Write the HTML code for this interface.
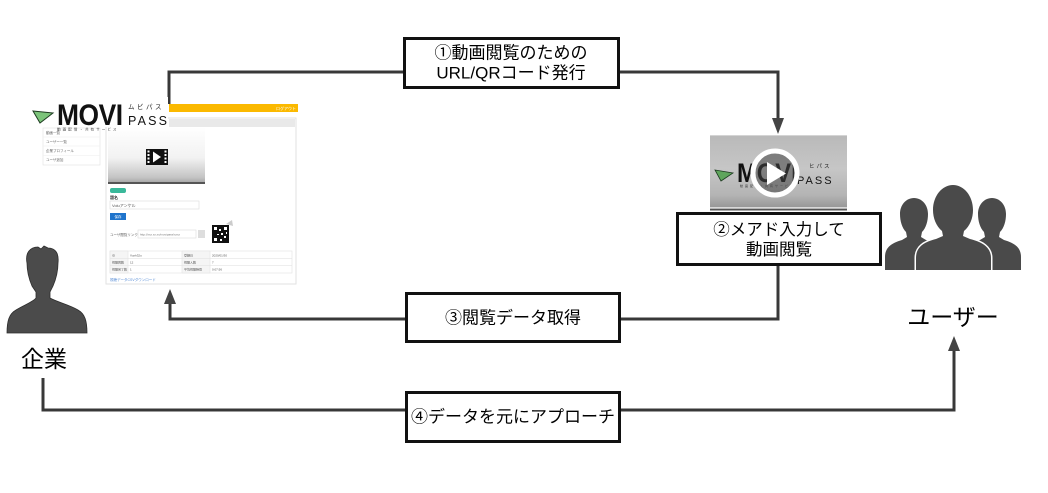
<!DOCTYPE html>
<html><head><meta charset="utf-8">
<style>
html,body{margin:0;padding:0;background:#fff;}
svg{display:block;}
text{font-family:"Liberation Sans","Noto Sans CJK JP",sans-serif;}
</style></head>
<body>
<svg width="1048" height="493" viewBox="0 0 1048 493" xmlns="http://www.w3.org/2000/svg">
<defs>
  <linearGradient id="vid" x1="0" y1="0" x2="0" y2="1">
    <stop offset="0" stop-color="#ffffff"/>
    <stop offset="0.55" stop-color="#f2f2f2"/>
    <stop offset="0.9" stop-color="#c4c4c4"/>
    <stop offset="1" stop-color="#a5a5a5"/>
  </linearGradient>
  <linearGradient id="thumb" x1="0" y1="0" x2="0" y2="1">
    <stop offset="0" stop-color="#b9b9b9"/>
    <stop offset="0.45" stop-color="#c6c6c6"/>
    <stop offset="0.8" stop-color="#b4b4b4"/>
    <stop offset="1" stop-color="#929292"/>
  </linearGradient>
</defs>

<!-- ===== connectors ===== -->
<g fill="none" stroke="#383838" stroke-width="3">
  <polyline points="169,104 169,72 405,72"/>
  <polyline points="619,72 778,72 778,119"/>
  <polyline points="778,265 778,319 620,319"/>
  <polyline points="405,319 170,319 170,303"/>
  <polyline points="43,378 43,410 405,410"/>
  <polyline points="620,410 954,410 954,350"/>
</g>
<g fill="#444">
  <polygon points="772,118 784,118 778,134"/>
  <polygon points="164,304 176,304 170,289"/>
  <polygon points="948,351 960,351 954,336"/>
</g>

<!-- ===== left screenshot ===== -->
<rect x="106" y="118" width="190" height="166" fill="#fff" stroke="#e2e2e2" stroke-width="1"/>
<rect x="169" y="119" width="126" height="8" fill="#e9e9e9"/>
<rect x="169" y="104" width="129" height="8" fill="#fbb900"/>
<text x="286" y="110" font-size="4" fill="#fff" text-anchor="middle">ログアウト</text>
<rect x="108" y="127" width="97" height="56" fill="url(#vid)"/>
<rect x="108" y="182" width="97" height="2" fill="#555"/>
<rect x="146" y="149" width="22" height="16" fill="#111"/>
<g fill="#fff">
  <rect x="147.5" y="150.5" width="2" height="2"/><rect x="147.5" y="154" width="2" height="2"/><rect x="147.5" y="157.5" width="2" height="2"/><rect x="147.5" y="161" width="2" height="2"/>
  <rect x="164.5" y="150.5" width="2" height="2"/><rect x="164.5" y="154" width="2" height="2"/><rect x="164.5" y="157.5" width="2" height="2"/><rect x="164.5" y="161" width="2" height="2"/>
  <polygon points="153,151.5 153,162.5 161,157"/>
</g>
<rect x="110" y="188" width="16" height="5" rx="2" fill="#3ab89a"/>
<text x="110" y="199" font-size="4" fill="#333" font-weight="bold">題名</text>
<rect x="110" y="201" width="89" height="8" fill="#fff" stroke="#ddd" stroke-width="0.6"/>
<text x="112" y="207" font-size="4" fill="#555">Voluアンケル</text>
<rect x="110" y="213" width="16" height="7" fill="#1f74cc"/>
<text x="118" y="218" font-size="3.5" fill="#fff" text-anchor="middle">保存</text>
<text x="110" y="236" font-size="3.5" fill="#666">ユーザ閲覧リンク</text>
<rect x="138" y="230" width="58" height="8" fill="#fff" stroke="#ddd" stroke-width="0.6"/>
<text x="140" y="235.5" font-size="3" fill="#777">http://xxx.xx.xx/movipass/xxxx</text>
<rect x="198" y="230" width="7" height="8" fill="#ddd"/>
<rect x="212" y="225" width="17" height="18" fill="#111"/>
<g fill="#fff">
  <rect x="214" y="227" width="3" height="3"/><rect x="224" y="227" width="3" height="3"/><rect x="214" y="238" width="3" height="3"/>
  <rect x="219" y="229" width="2" height="2"/><rect x="221" y="233" width="2" height="2"/><rect x="217" y="234" width="2" height="1"/>
  <rect x="224" y="236" width="2" height="2"/><rect x="220" y="239" width="2" height="2"/><rect x="226" y="232" width="1" height="2"/>
</g>
<polygon points="226,224 232,220 233,226" fill="#ccc"/>
<g stroke="#e3e3e3" stroke-width="0.6">
  <rect x="110" y="251" width="182" height="22" fill="#fff"/>
  <rect x="110" y="251" width="18" height="22" fill="#f5f5f5"/>
  <rect x="182" y="251" width="28" height="22" fill="#f5f5f5"/>
  <line x1="110" y1="258.3" x2="292" y2="258.3"/>
  <line x1="110" y1="265.6" x2="292" y2="265.6"/>
</g>
<g font-size="3" fill="#555">
  <text x="112" y="256.5">ID</text><text x="130" y="256.5">Vuxh32u</text><text x="184" y="256.5">登録日</text><text x="212" y="256.5">2020/01/30</text>
  <text x="112" y="263.5">視聴回数</text><text x="130" y="263.5">12</text><text x="184" y="263.5">視聴人数</text><text x="212" y="263.5">7</text>
  <text x="112" y="270.5">視聴完了数</text><text x="130" y="270.5">1</text><text x="184" y="270.5">平均視聴時間</text><text x="212" y="270.5">0:07:56</text>
</g>
<text x="110" y="281" font-size="3.5" fill="#5b8fd6">視聴データCSVダウンロード</text>

<rect x="43" y="128" width="57" height="37" fill="#fff" stroke="#e4e4e4" stroke-width="0.7"/>
<g stroke="#eee" stroke-width="0.6">
  <line x1="43" y1="137" x2="100" y2="137"/><line x1="43" y1="146" x2="100" y2="146"/><line x1="43" y1="155.5" x2="100" y2="155.5"/>
</g>
<g font-size="3.5" fill="#666">
  <text x="46" y="134">動画一覧</text><text x="46" y="143">ユーザー一覧</text><text x="46" y="152">企業プロフィール</text><text x="46" y="161">ユーザ追加</text>
</g>

<!-- logo -->
<rect x="30" y="97" width="138" height="30" fill="#fff"/>
<polygon points="33,111 53,113 40,123" fill="#7cc47a" stroke="#1d3b20" stroke-width="1"/>
<text x="57" y="125" font-size="30" font-weight="bold" fill="#111" transform="translate(57 0) scale(0.88 1) translate(-57 0)" letter-spacing="-0.5">MOVI</text>
<text x="128" y="109" font-size="6.5" fill="#222" letter-spacing="2.5">ムビパス</text>
<text x="128" y="125" font-size="12.5" fill="#111" letter-spacing="2.2">PASS</text>
<text x="57" y="130.5" font-size="3.6" fill="#444" letter-spacing="2">動画配信・共有サービス</text>

<!-- ===== enterprise person ===== -->
<path d="M27 263 C25 253 30 247 38 247 L41 249 L44 246 L48 248 C56 248 59 254 58 263 C58 271 56 279 53 286 L50 292 L50 298 C57 302 70 305 78 310 C85 314 87 321 87 333 L7 333 C7 321 9 314 16 310 C24 305 33 302 36 298 L36 292 L32 286 C29 279 27 271 27 263 Z" fill="#4b4b4b" stroke="#2e2e2e" stroke-width="0.8"/>
<text x="44" y="359" font-size="23" fill="#000" text-anchor="middle" dominant-baseline="central">企業</text>

<!-- ===== right thumbnail ===== -->
<rect x="710" y="135" width="137" height="75" fill="url(#thumb)"/>
<rect x="710" y="135" width="137" height="1" fill="#d4d4d4"/>
<rect x="710" y="207" width="137" height="1.5" fill="#d8d8d8"/>
<rect x="710" y="209" width="137" height="1.5" fill="#555"/>
<polygon points="715,170 733,173 721,181" fill="#5fa55c" stroke="#1d3b20" stroke-width="0.8"/>
<text x="737" y="182" font-size="27" font-weight="bold" fill="#111" transform="translate(737 0) scale(0.88 1) translate(-737 0)">MOVI</text>
<text x="809" y="168" font-size="5.5" fill="#222" letter-spacing="2">ヒパス</text>
<text x="797" y="184" font-size="11" fill="#111" letter-spacing="2">PASS</text>
<text x="740" y="187" font-size="3" fill="#333" letter-spacing="2">動画配信・共有サービス</text>
<circle cx="775" cy="173" r="22" fill="rgba(70,70,70,0.55)" stroke="#fff" stroke-width="5"/>
<polygon points="767,162 767,185 786,173.5" fill="#fff"/>

<!-- ===== users icon ===== -->
<g fill="#4a4a4a" stroke="#fff" stroke-width="3" paint-order="stroke">
  <path d="M885 270 L885 257 C885 247 892 243 902 240 L907 237 L906 232 C902 228 900 221 900 214 C900 205 906 198 914 198 C922 198 928 205 928 214 C928 221 926 228 922 232 L921 237 L926 240 C936 243 942 247 942 257 L942 270 Z"/>
  <path d="M1021 270 L1021 257 C1021 247 1014 243 1004 240 L999 237 L1000 232 C1004 228 1006 221 1006 214 C1006 205 1000 198 992 198 C984 198 978 205 978 214 C978 221 980 228 984 232 L985 237 L980 240 C970 243 964 247 964 257 L964 270 Z"/>
  <path d="M916 270 L916 258 C916 247 924 242 936 239 L943 236 L942 231 C936 226 933 218 933 210 C933 196 942 185 953 185 C964 185 973 196 973 210 C973 218 970 226 964 231 L963 236 L970 239 C982 242 991 247 991 258 L991 270 Z"/>
</g>
<text x="953" y="317" font-size="23" fill="#000" text-anchor="middle" dominant-baseline="central">ユーザー</text>

<!-- ===== label boxes ===== -->
<g fill="#fff" stroke="#111" stroke-width="3">
  <rect x="404.5" y="38.5" width="214" height="49"/>
  <rect x="677.5" y="213.5" width="203" height="51"/>
  <rect x="406.5" y="293.5" width="213" height="48"/>
  <rect x="406.5" y="392.5" width="213" height="49"/>
</g>
<g font-size="17" fill="#000" text-anchor="middle" dominant-baseline="central">
  <text x="511" y="53">①動画閲覧のための</text>
  <text x="511" y="73">URL/QRコード発行</text>
  <text x="779" y="230" font-size="16.5">②メアド入力して</text>
  <text x="779" y="250" font-size="16.5">動画閲覧</text>
  <text x="513" y="318">③閲覧データ取得</text>
  <text x="513" y="417">④データを元にアプローチ</text>
</g>
</svg>
</body></html>
